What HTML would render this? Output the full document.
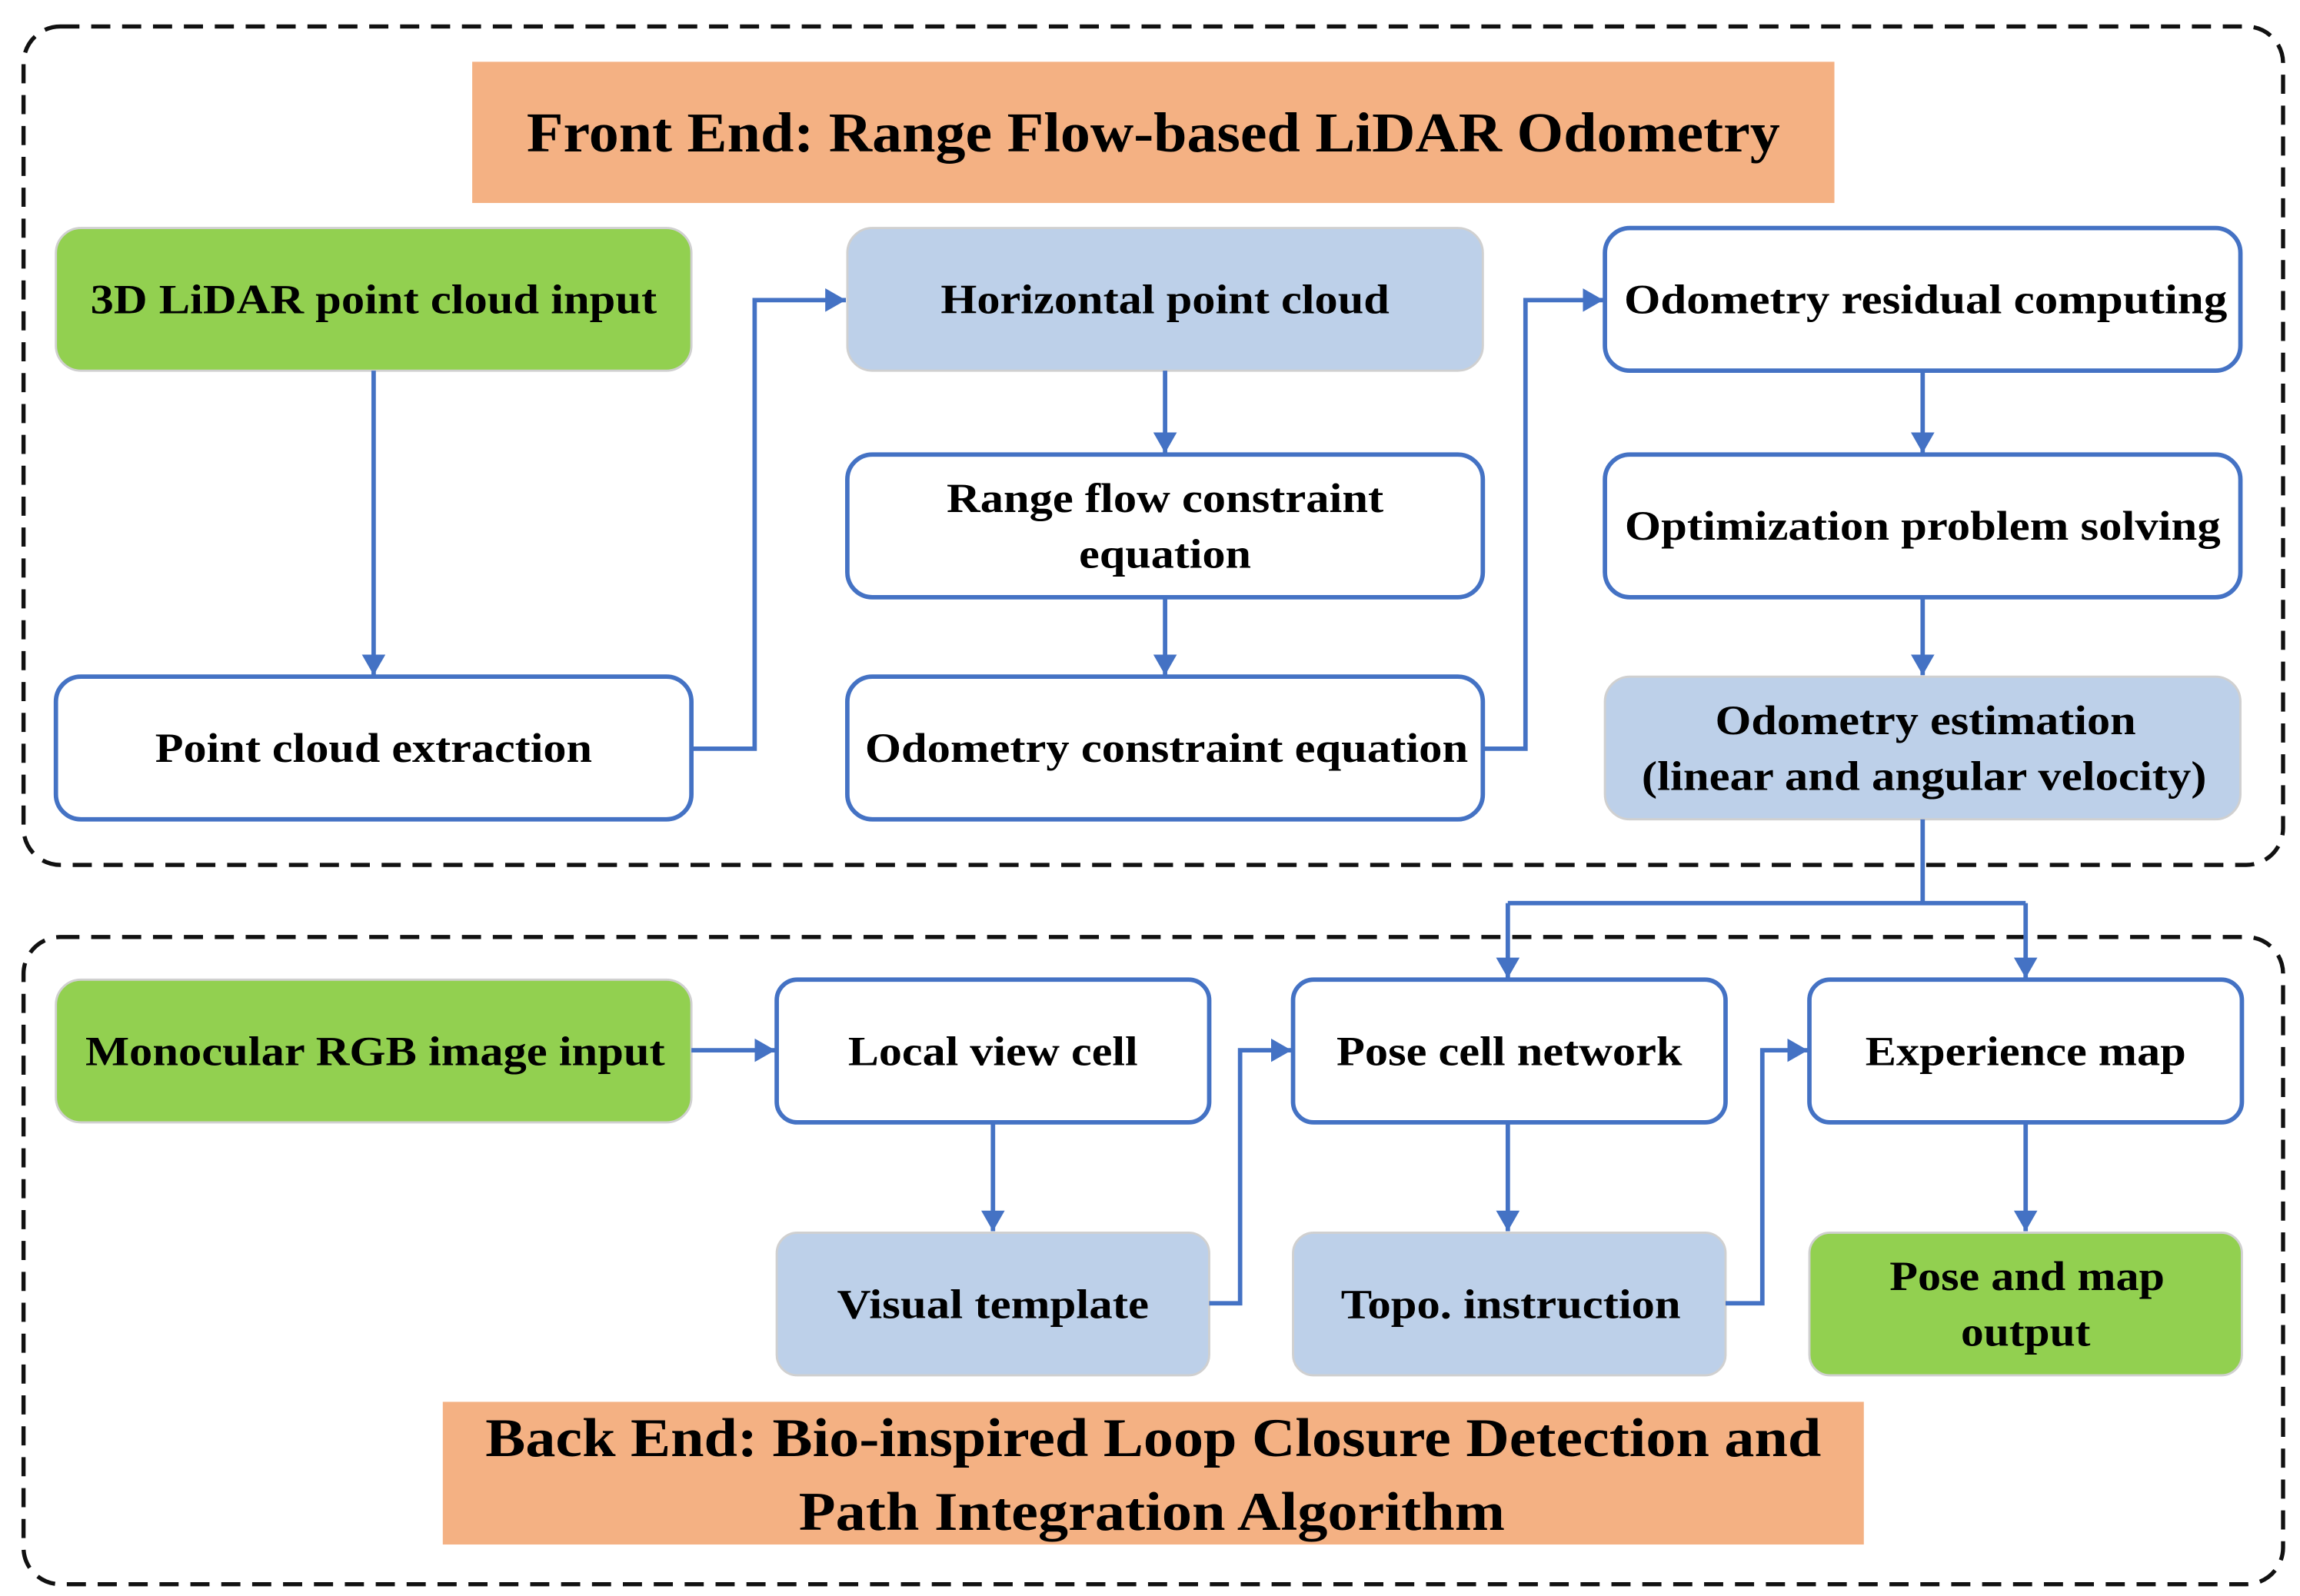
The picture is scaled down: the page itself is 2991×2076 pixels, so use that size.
<!DOCTYPE html>
<html><head><meta charset="utf-8"><style>
html,body{margin:0;padding:0;background:#fff;}
svg{display:block;}
text{font-family:"Liberation Serif",serif;font-weight:bold;fill:#000;}
</style></head><body>
<svg width="2991" height="2076" viewBox="0 0 1563.5 1085" preserveAspectRatio="none" xmlns="http://www.w3.org/2000/svg">
<defs>
<marker id="ad" viewBox="0 0 14 16" markerWidth="14" markerHeight="16" refX="14" refY="8" orient="auto" markerUnits="userSpaceOnUse">
<path d="M0,0 L14,8 L0,16 z" fill="#4472C4"/>
</marker>
</defs>
<!-- dashed containers -->
<rect x="16" y="18" width="1536" height="570" rx="25" fill="none" stroke="#111" stroke-width="2.8" stroke-dasharray="13,8"/>
<rect x="16" y="637" width="1536" height="440" rx="25" fill="none" stroke="#111" stroke-width="2.8" stroke-dasharray="13,8"/>
<!-- titles -->
<rect x="321" y="42" width="926" height="96" fill="#F4B183"/>
<text x="784" y="103" font-size="38" text-anchor="middle" textLength="852" lengthAdjust="spacingAndGlyphs">Front End: Range Flow-based LiDAR Odometry</text>
<rect x="301" y="953" width="966" height="97" fill="#F4B183"/>
<text x="784" y="990" font-size="37" text-anchor="middle" textLength="908" lengthAdjust="spacingAndGlyphs">Back End: Bio-inspired Loop Closure Detection and</text>
<text x="783" y="1040" font-size="37" text-anchor="middle" textLength="480" lengthAdjust="spacingAndGlyphs">Path Integration Algorithm</text>

<g stroke-width="3">
<rect x="38" y="155" width="432" height="97" rx="17" fill="#92D050" stroke="#d0d0d0" stroke-width="1.5"/>
<rect x="576" y="155" width="432" height="97" rx="17" fill="#BDD0E9" stroke="#d0d0d0" stroke-width="1.5"/>
<rect x="1091" y="155" width="432" height="97" rx="17" fill="#fff" stroke="#4472C4"/>
<rect x="576" y="309" width="432" height="97" rx="17" fill="#fff" stroke="#4472C4"/>
<rect x="1091" y="309" width="432" height="97" rx="17" fill="#fff" stroke="#4472C4"/>
<rect x="38" y="460" width="432" height="97" rx="17" fill="#fff" stroke="#4472C4"/>
<rect x="576" y="460" width="432" height="97" rx="17" fill="#fff" stroke="#4472C4"/>
<rect x="1091" y="460" width="432" height="97" rx="17" fill="#BDD0E9" stroke="#d0d0d0" stroke-width="1.5"/>
<rect x="38" y="666" width="432" height="97" rx="17" fill="#92D050" stroke="#d0d0d0" stroke-width="1.5"/>
<rect x="528" y="666" width="294" height="97" rx="14" fill="#fff" stroke="#4472C4"/>
<rect x="879" y="666" width="294" height="97" rx="14" fill="#fff" stroke="#4472C4"/>
<rect x="1230" y="666" width="294" height="97" rx="14" fill="#fff" stroke="#4472C4"/>
<rect x="528" y="838" width="294" height="97" rx="14" fill="#BDD0E9" stroke="#d0d0d0" stroke-width="1.5"/>
<rect x="879" y="838" width="294" height="97" rx="14" fill="#BDD0E9" stroke="#d0d0d0" stroke-width="1.5"/>
<rect x="1230" y="838" width="294" height="97" rx="14" fill="#92D050" stroke="#d0d0d0" stroke-width="1.5"/>
</g>

<g fill="none" stroke="#4472C4" stroke-width="3">
<path d="M254,252 V459" marker-end="url(#ad)"/>
<path d="M470,509 H513 V204 H575" marker-end="url(#ad)"/>
<path d="M792,252 V308" marker-end="url(#ad)"/>
<path d="M792,406 V459" marker-end="url(#ad)"/>
<path d="M1008,509 H1037 V204 H1090" marker-end="url(#ad)"/>
<path d="M1307,252 V308" marker-end="url(#ad)"/>
<path d="M1307,406 V459" marker-end="url(#ad)"/>
<path d="M1307,557 V614"/>
<path d="M1025,614 H1377"/>
<path d="M1025,614 V665" marker-end="url(#ad)"/>
<path d="M1377,614 V665" marker-end="url(#ad)"/>
<path d="M470,714 H527" marker-end="url(#ad)"/>
<path d="M675,763 V837" marker-end="url(#ad)"/>
<path d="M822,886 H843 V714 H878" marker-end="url(#ad)"/>
<path d="M1025,763 V837" marker-end="url(#ad)"/>
<path d="M1173,886 H1198 V714 H1229" marker-end="url(#ad)"/>
<path d="M1377,763 V837" marker-end="url(#ad)"/>
</g>

<g font-size="28" text-anchor="middle">
<text x="254" y="213" textLength="385" lengthAdjust="spacingAndGlyphs">3D LiDAR point cloud input</text>
<text x="792" y="213" textLength="305" lengthAdjust="spacingAndGlyphs">Horizontal point cloud</text>
<text x="1309" y="213" textLength="410" lengthAdjust="spacingAndGlyphs">Odometry residual computing</text>
<text x="792" y="348" textLength="297" lengthAdjust="spacingAndGlyphs">Range flow constraint</text>
<text x="792" y="386" textLength="117" lengthAdjust="spacingAndGlyphs">equation</text>
<text x="1307" y="367" textLength="405" lengthAdjust="spacingAndGlyphs">Optimization problem solving</text>
<text x="254" y="518" textLength="297" lengthAdjust="spacingAndGlyphs">Point cloud extraction</text>
<text x="793" y="518" textLength="410" lengthAdjust="spacingAndGlyphs">Odometry constraint equation</text>
<text x="1309" y="499" textLength="286" lengthAdjust="spacingAndGlyphs">Odometry estimation</text>
<text x="1308" y="537" textLength="384" lengthAdjust="spacingAndGlyphs">(linear and angular velocity)</text>
<text x="255" y="724" textLength="394" lengthAdjust="spacingAndGlyphs">Monocular RGB image input</text>
<text x="675" y="724" textLength="197" lengthAdjust="spacingAndGlyphs">Local view cell</text>
<text x="1026" y="724" textLength="235" lengthAdjust="spacingAndGlyphs">Pose cell network</text>
<text x="1377" y="724" textLength="218" lengthAdjust="spacingAndGlyphs">Experience map</text>
<text x="675" y="896" textLength="212" lengthAdjust="spacingAndGlyphs">Visual template</text>
<text x="1027" y="896" textLength="231" lengthAdjust="spacingAndGlyphs">Topo. instruction</text>
<text x="1378" y="877" textLength="187" lengthAdjust="spacingAndGlyphs">Pose and map</text>
<text x="1377" y="915" textLength="88" lengthAdjust="spacingAndGlyphs">output</text>
</g>
</svg>
</body></html>
